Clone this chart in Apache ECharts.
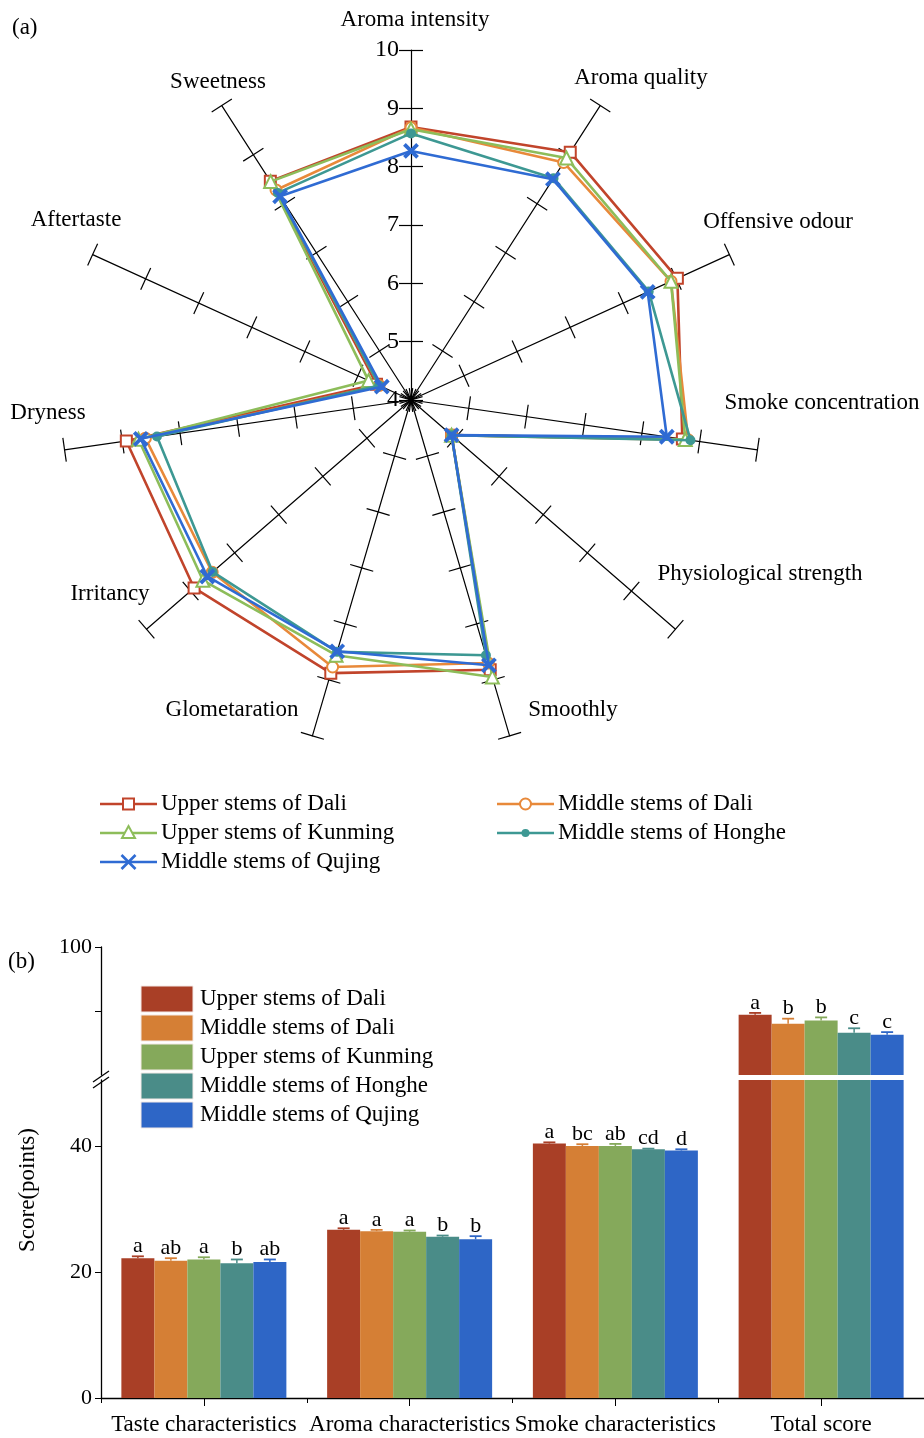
<!DOCTYPE html>
<html><head><meta charset="utf-8">
<script src="https://cdn.jsdelivr.net/npm/echarts@6/dist/echarts.min.js"></script>
<style>html,body{margin:0;padding:0;background:#fff}#c{width:924px;height:1438px}</style>
</head><body><div id="c"></div>
<script>
// ---------- Panel (a): radar, axes listed clockwise from the top ----------
const radarAxes = ['Aroma intensity','Aroma quality','Offensive odour','Smoke concentration','Physiological strength','Smoothly','Glometaration','Irritancy','Dryness','Aftertaste','Sweetness'];
const groups = ['Upper stems of Dali','Middle stems of Dali','Upper stems of Kunming','Middle stems of Honghe','Middle stems of Qujing'];
const radarMin = 4, radarMax = 10;
const radarUpperDali   = [8.68, 9.05, 9.02, 8.70, 4.92, 8.82, 8.88, 8.92, 8.93, 4.65, 8.46];
const radarMiddleDali  = [8.67, 8.84, 8.90, 8.80, 4.92, 8.70, 8.77, 8.51, 8.60, 4.60, 8.28];
const radarUpperKunming= [8.64, 8.93, 8.90, 8.75, 4.92, 8.95, 8.56, 8.72, 8.72, 4.80, 8.45];
const radarMidHonghe   = [8.57, 8.52, 8.48, 8.84, 4.92, 8.56, 8.50, 8.50, 8.40, 4.60, 8.22];
const radarMidQujing   = [8.27, 8.50, 8.46, 8.43, 4.92, 8.74, 8.49, 8.62, 8.68, 4.55, 8.15];
const radarSeriesValues = [radarUpperDali, radarMiddleDali, radarUpperKunming, radarMidHonghe, radarMidQujing];

// ---------- Panel (b): bars ----------
const barCategories = ['Taste characteristics','Aroma characteristics','Smoke characteristics','Total score'];
const barUpperDali    = [22.2, 26.7, 40.4, 89.4];
const barMiddleDali   = [21.8, 26.5, 40.0, 88.0];
const barUpperKunming = [22.0, 26.4, 40.0, 88.5];
const barMidHonghe    = [21.4, 25.6, 39.5, 86.6];
const barMidQujing    = [21.6, 25.2, 39.3, 86.3];
const barValues = [barUpperDali, barMiddleDali, barUpperKunming, barMidHonghe, barMidQujing];
const errUpperDali    = [0.3, 0.25, 0.2, 0.3];
const errMiddleDali   = [0.4, 0.2, 0.3, 0.8];
const errUpperKunming = [0.35, 0.2, 0.35, 0.5];
const errMidHonghe    = [0.6, 0.2, 0.1, 0.7];
const errMidQujing    = [0.4, 0.5, 0.2, 0.4];
const barErrors = [errUpperDali, errMiddleDali, errUpperKunming, errMidHonghe, errMidQujing];
const lettersUpperDali    = ['a','a','a','a'];
const lettersMiddleDali   = ['ab','a','bc','b'];
const lettersUpperKunming = ['a','a','ab','b'];
const lettersMidHonghe    = ['b','b','cd','c'];
const lettersMidQujing    = ['ab','b','d','c'];
const barLetters = [lettersUpperDali, lettersMiddleDali, lettersUpperKunming, lettersMidHonghe, lettersMidQujing];
const lowerTicks = [0, 20, 40];
const upperTicks = [90, 100];
const upperLabels = [100];

// ---------- styles ----------
const FONT = 'Liberation Serif';
const lineColors = ['#C1442B', '#E8893A', '#8DBD5A', '#3D9893', '#2F6BD3'];
const barColors  = ['#A93F26', '#D57F35', '#85A95B', '#4A8C88', '#2E66C6'];
const xPath = 'path://M0,2L2,0L10,8L18,0L20,2L12,10L20,18L18,20L10,12L2,20L0,18L8,10Z';
const symbols = ['emptyRect', 'emptyCircle', 'emptyTriangle', 'circle', xPath];
const symbolSizes = [11, 11, 13, 8, 13];
const BAR_W = 33;
const F23 = '23px "' + FONT + '"';
const F22 = '22px "' + FONT + '"';

const n = radarAxes.length;
const ecOrder = radarAxes.map((_, j) => (n - j) % n); // echarts radar runs counter-clockwise
const indicatorA = ecOrder.map((k, j) => {
  const o = { name: radarAxes[k], min: radarMin, max: radarMax };
  if (j === 0) o.axisLabel = { show: true };
  return o;
});
const indicatorB = ecOrder.map(k => ({ name: radarAxes[k], min: radarMin, max: radarMax }));

const radarCommon = {
  center: [411, 400], radius: 350, startAngle: 90, splitNumber: 6, shape: 'polygon',
  splitLine: { show: false }, splitArea: { show: false }, axisName: { show: false }
};

const series = [];
radarSeriesValues.forEach((vals, i) => {
  series.push({
    type: 'radar', radarIndex: 0, name: groups[i],
    symbol: symbols[i], symbolSize: symbolSizes[i],
    lineStyle: { color: lineColors[i], width: 2.6 },
    itemStyle: { color: lineColors[i], borderColor: lineColors[i], borderWidth: 2 },
    data: [{ value: ecOrder.map(k => vals[k]), name: groups[i] }],
    z: 3 + i
  });
});

// bars: upper (above the break) grid 0 and lower grid 1
barValues.forEach((vals, i) => {
  series.push({
    type: 'bar', name: groups[i], xAxisIndex: 0, yAxisIndex: 0, barWidth: BAR_W, barGap: '0%',
    itemStyle: { color: barColors[i] }, clip: true,
    data: vals.map(v => v >= 80 ? v : null)
  });
  series.push({
    type: 'bar', name: groups[i], xAxisIndex: 1, yAxisIndex: 1, barWidth: BAR_W, barGap: '0%',
    itemStyle: { color: barColors[i] }, clip: true,
    data: vals.slice()
  });
});

function errRows(filter) {
  const rows = [];
  barValues.forEach((vals, g) => vals.forEach((v, c) => {
    if (filter(v)) rows.push([c, v, barErrors[g][c], g, barLetters[g][c]]);
  }));
  return rows;
}
function makeErr(xi, yi, rows) {
  return {
    type: 'custom', xAxisIndex: xi, yAxisIndex: yi, clip: false, z: 10,
    encode: { x: 0, y: 1 },
    data: rows.map(r => [r[0], r[1], r[2], r[3]]),
    renderItem: function (params, api) {
      const r = rows[params.dataIndex];
      const p0 = api.coord([r[0], r[1]]);
      const p1 = api.coord([r[0], r[1] + r[2]]);
      const x = p0[0] + (r[3] - 2) * BAR_W;
      const col = barColors[r[3]];
      return { type: 'group', children: [
        { type: 'line', shape: { x1: x, y1: p0[1], x2: x, y2: p1[1] }, style: { stroke: col, lineWidth: 1.5 } },
        { type: 'line', shape: { x1: x - 6, y1: p1[1], x2: x + 6, y2: p1[1] }, style: { stroke: col, lineWidth: 1.8 } },
        { type: 'text', x: x, y: p1[1] + 1, style: { text: r[4], textAlign: 'center', textVerticalAlign: 'bottom', font: F22, fill: '#000' } }
      ]};
    }
  };
}
series.push(makeErr(0, 0, errRows(v => v >= 80)));
series.push(makeErr(1, 1, errRows(v => v < 80)));

// ---------- graphics: names, legends, panel labels ----------
const graphic = [];
const namePos = [[415,20],[641,78],[778,222],[822,403],[760,574],[573,710],[232,710],[110,594],[48,413],[76,220],[218,82]];
radarAxes.forEach((nm, k) => graphic.push({
  type: 'text', x: namePos[k][0], y: namePos[k][1],
  style: { text: nm, textAlign: 'center', textVerticalAlign: 'middle', font: F23, fill: '#000' }
}));
graphic.push({ type: 'text', x: 12, y: 28, style: { text: '(a)', textVerticalAlign: 'middle', font: F23, fill: '#000' } });
graphic.push({ type: 'text', x: 8, y: 962, style: { text: '(b)', textVerticalAlign: 'middle', font: F23, fill: '#000' } });
graphic.push({ type: 'text', x: 28, y: 1190, rotation: Math.PI / 2,
  style: { text: 'Score(points)', textAlign: 'center', textVerticalAlign: 'middle', font: F23, fill: '#000' } });

// radar legend
const legPos = [[100,804],[497,804],[100,833],[497,833],[100,862]];
groups.forEach((g, i) => {
  const [x0, y0] = legPos[i];
  const c = lineColors[i], mx = x0 + 28.5;
  graphic.push({ type: 'line', shape: { x1: x0, y1: y0, x2: x0 + 57, y2: y0 }, style: { stroke: c, lineWidth: 2.6 } });
  let m;
  if (i === 0) m = { type: 'rect', shape: { x: mx - 5.5, y: y0 - 5.5, width: 11, height: 11 }, style: { fill: '#fff', stroke: c, lineWidth: 2 } };
  else if (i === 1) m = { type: 'circle', shape: { cx: mx, cy: y0, r: 5.5 }, style: { fill: '#fff', stroke: c, lineWidth: 2 } };
  else if (i === 2) m = { type: 'polygon', shape: { points: [[mx, y0 - 7], [mx + 6.5, y0 + 5], [mx - 6.5, y0 + 5]] }, style: { fill: '#fff', stroke: c, lineWidth: 2 } };
  else if (i === 3) m = { type: 'circle', shape: { cx: mx, cy: y0, r: 4 }, style: { fill: c } };
  else m = { type: 'group', children: [
    { type: 'line', shape: { x1: mx - 7, y1: y0 - 7, x2: mx + 7, y2: y0 + 7 }, style: { stroke: c, lineWidth: 2.6 } },
    { type: 'line', shape: { x1: mx - 7, y1: y0 + 7, x2: mx + 7, y2: y0 - 7 }, style: { stroke: c, lineWidth: 2.6 } } ] };
  graphic.push(m);
  graphic.push({ type: 'text', x: x0 + 61, y: y0, style: { text: g, textVerticalAlign: 'middle', font: F23, fill: '#000' } });
});
// bar legend
groups.forEach((g, i) => {
  const y0 = 999 + i * 29;
  graphic.push({ type: 'rect', shape: { x: 141, y: y0 - 13, width: 52, height: 26 }, style: { fill: barColors[i], stroke: '#f3e9e6', lineWidth: 1 } });
  graphic.push({ type: 'text', x: 200, y: y0, style: { text: g, textVerticalAlign: 'middle', font: F23, fill: '#000' } });
});
// axis break mark
graphic.push({ type: 'line', shape: { x1: 93, y1: 1082, x2: 109, y2: 1071 }, style: { stroke: '#000', lineWidth: 1.3 } });
graphic.push({ type: 'line', shape: { x1: 93, y1: 1088, x2: 109, y2: 1077 }, style: { stroke: '#000', lineWidth: 1.3 } });

const axisTxt = { color: '#000', fontFamily: FONT, fontSize: 22 };

const option = {
  backgroundColor: '#fff',
  animation: false,
  radar: [
    Object.assign({}, radarCommon, {
      indicator: indicatorA,
      axisLine: { show: true, lineStyle: { color: '#000', width: 1.2 } },
      axisTick: { show: true, length: 12, lineStyle: { color: '#000', width: 1.2 } },
      axisLabel: { show: false, color: '#000', fontFamily: FONT, fontSize: 24, margin: 12 }
    }),
    Object.assign({}, radarCommon, {
      indicator: indicatorB,
      axisLine: { show: false },
      axisTick: { show: true, length: -12, lineStyle: { color: '#000', width: 1.2 } },
      axisLabel: { show: false }
    })
  ],
  grid: [
    { left: 101, right: 0, top: 947, height: 128 },
    { left: 101, right: 0, top: 1080, bottom: 40 }
  ],
  xAxis: [
    { type: 'category', gridIndex: 0, data: barCategories, show: false },
    { type: 'category', gridIndex: 1, data: barCategories, position: 'bottom',
      axisLine: { lineStyle: { color: '#000', width: 1.3 } },
      axisTick: { show: true, length: 5, lineStyle: { color: '#000' } },
      axisLabel: Object.assign({ margin: 15, interval: 0, hideOverlap: false }, axisTxt, { fontSize: 23 }) },
    { type: 'category', gridIndex: 1, data: barCategories, position: 'bottom',
      axisLine: { show: false }, axisTick: { show: true, alignWithLabel: true, length: 8, lineStyle: { color: '#000' } },
      axisLabel: { show: false } }
  ],
  yAxis: [
    { type: 'value', gridIndex: 0, min: 80, max: 100, splitLine: { show: false },
      axisLine: { show: true, lineStyle: { color: '#000', width: 1.3 } },
      axisTick: { show: true, length: 6, customValues: upperTicks, lineStyle: { color: '#000' } },
      axisLabel: Object.assign({ margin: 9, customValues: upperLabels }, axisTxt) },
    { type: 'value', gridIndex: 1, min: 0, max: 50.5, splitLine: { show: false },
      axisLine: { show: true, lineStyle: { color: '#000', width: 1.3 } },
      axisTick: { show: true, length: 6, customValues: lowerTicks, lineStyle: { color: '#000' } },
      axisLabel: Object.assign({ margin: 9, customValues: lowerTicks }, axisTxt) }
  ],
  series: series,
  graphic: graphic
};
const chart = echarts.init(document.getElementById('c'), null, { renderer: 'canvas' });
chart.setOption(option);
</script></body></html>
